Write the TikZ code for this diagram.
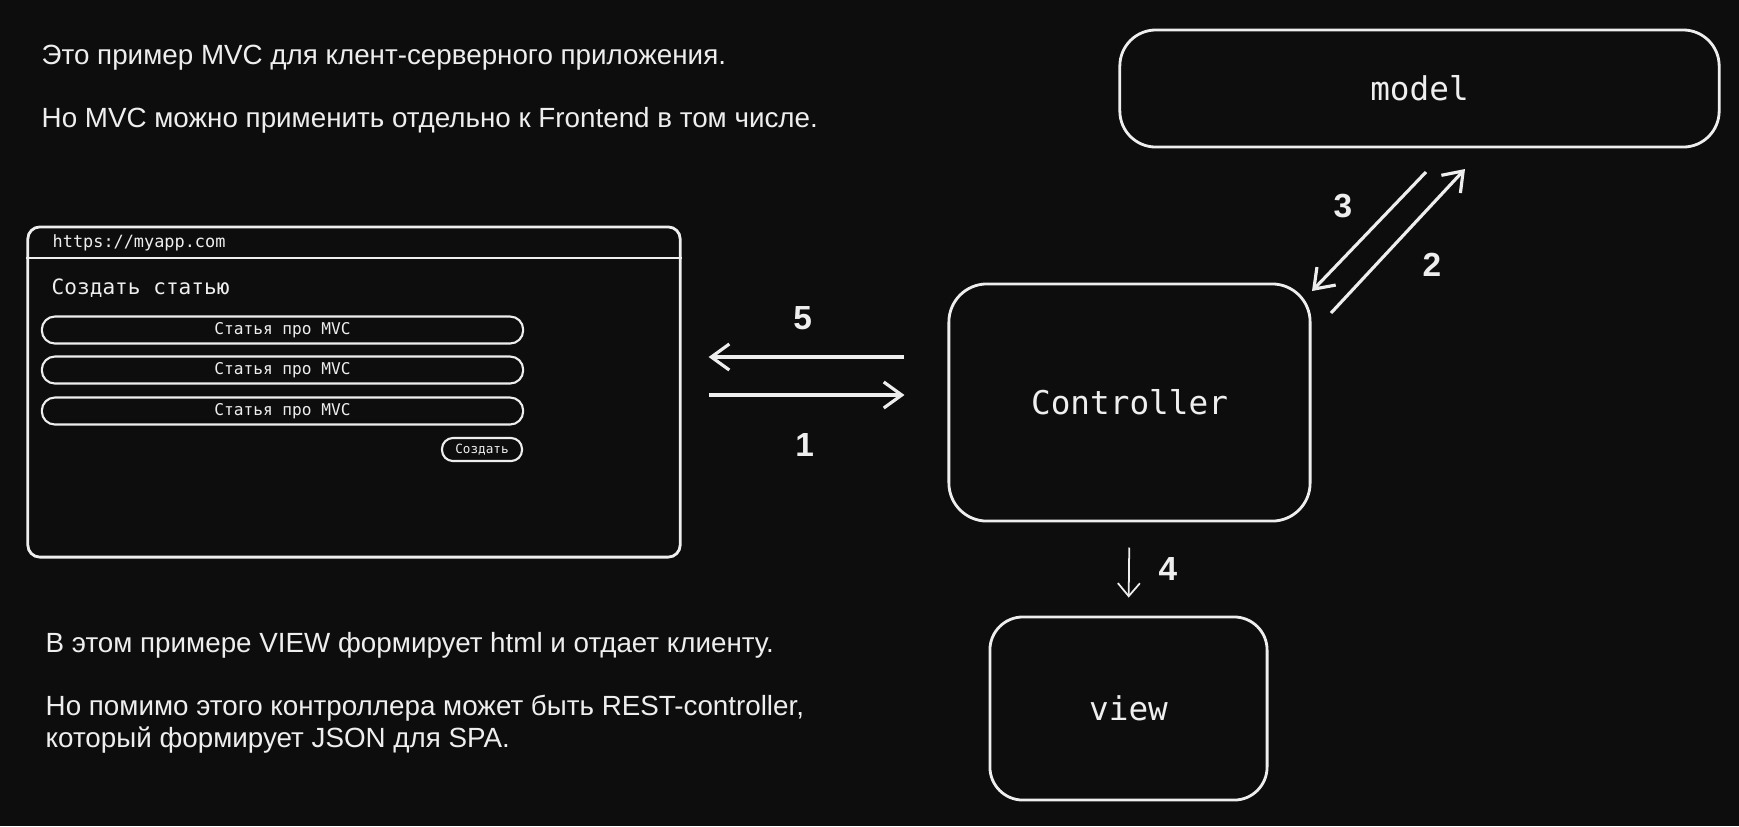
\documentclass[tikz,border=0pt]{standalone}
\usepackage{fontspec}
\setmainfont{Liberation Sans}
\newfontfamily\pixfont{DejaVu Sans Mono}
\usetikzlibrary{arrows.meta}
\definecolor{bg}{HTML}{0D0D0D}
\definecolor{fg}{HTML}{EEEEEE}

\tikzset{
  box/.style={draw=fg, line width=0.8pt, rounded corners=0.38cm, text=fg, font=\pixfont\fontsize{9.3}{11}\selectfont},
  field/.style={draw=fg, line width=0.6pt, rounded corners=0.13cm, minimum width=4.81cm, minimum height=0.27cm, inner sep=0pt, text=fg, font=\pixfont\fontsize{4.6}{5}\selectfont},
  arr/.style={draw=fg, line width=0.9pt, -{Straight Barb[length=1.8mm,width=2.6mm]}},
  num/.style={text=fg, font=\bfseries\fontsize{9.5}{11}\selectfont},
  note/.style={anchor=west, text=fg, inner sep=0pt, font=\fontsize{7.9}{10}\selectfont},
}

\begin{document}
\begin{tikzpicture}[x=0.01cm, y=-0.01cm]

	% background
	\fill[bg] (0,0) rectangle (1739,826);
	\useasboundingbox (0,0) rectangle (1739,826);

	% notes
	\node[note] (t1) at (41,58) {Это пример MVC для клент-серверного приложения.};
	\node[note] (t2) at (41,120) {Но MVC можно применить отдельно к Frontend в том числе.};
	\node[note] (t3) at (45,645) {В этом примере VIEW формирует html и отдает клиенту.};
	\node[note] (t4) at (45,708) {Но помимо этого контроллера может быть REST-controller,};
	\node[note] (t5) at (45,740) {который формирует JSON для SPA.};

	% browser
	\node[draw=fg, line width=0.8pt, rounded corners=0.12cm, minimum width=6.52cm, minimum height=3.30cm] (browser) at (354,392) {};
	\draw[fg, line width=0.8pt] (browser.west |- 0,258) -- (browser.east |- 0,258);
	\node[anchor=west, text=fg, inner sep=0pt, font=\pixfont\fontsize{4.8}{6}\selectfont] (url) at (52,243) {https://myapp.com};
	\node[anchor=west, text=fg, inner sep=0pt, font=\pixfont\fontsize{6}{7}\selectfont] (title) at (51,288) {Создать статью};
	\node[field] (f1) at (282.5,330) {Статья про MVC};
	\node[field] (f2) at (282.5,370) {Статья про MVC};
	\node[field] (f3) at (282.5,411) {Статья про MVC};
	\node[field, minimum width=0.80cm, minimum height=0.23cm, rounded corners=0.11cm, font=\pixfont\fontsize{3.6}{4}\selectfont] (btn) at (482,449.5) {Создать};

	% MVC
	\node[box, minimum width=5.99cm, minimum height=1.17cm, rounded corners=0.36cm] (model) at (1419.5,88.5) {model};
	\node[box, minimum width=3.61cm, minimum height=2.37cm] (ctrl) at (1129.5,402.5) {Controller};
	\node[box, minimum width=2.77cm, minimum height=1.83cm, rounded corners=0.33cm] (view) at (1128.5,708.5) {view};

	\coordinate (m3) at (1426,172);
	\coordinate (c3) at (1312,291);
	\coordinate (c2) at (1331,313);
	\coordinate (m2) at (1465,169);

	% arrows
	\draw[arr, shorten <=0.43cm, shorten >=0.27cm] (ctrl.west |- 0,357) -- (browser.east |- 0,357) node[num, midway, xshift=-0.12cm, yshift=0.39cm] {5};
	\draw[arr, shorten <=0.27cm, shorten >=0.43cm] (browser.east |- 0,395) -- (ctrl.west |- 0,395) node[num, midway, xshift=-0.10cm, yshift=-0.50cm] {1};
	\draw[arr] (m3) -- (c3) node[num, midway, xshift=-0.26cm, yshift=0.25cm] {3};
	\draw[arr] (c2) -- (m2) node[num, midway, xshift=0.34cm, yshift=-0.24cm] {2};
	\draw[draw=fg, line width=0.5pt, -{Straight Barb[length=1.3mm,width=2.2mm]}, shorten <=0.25cm, shorten >=0.18cm] (ctrl.south) -- (view.north) node[num, midway, xshift=0.39cm] {4};

\end{tikzpicture}
\end{document}
